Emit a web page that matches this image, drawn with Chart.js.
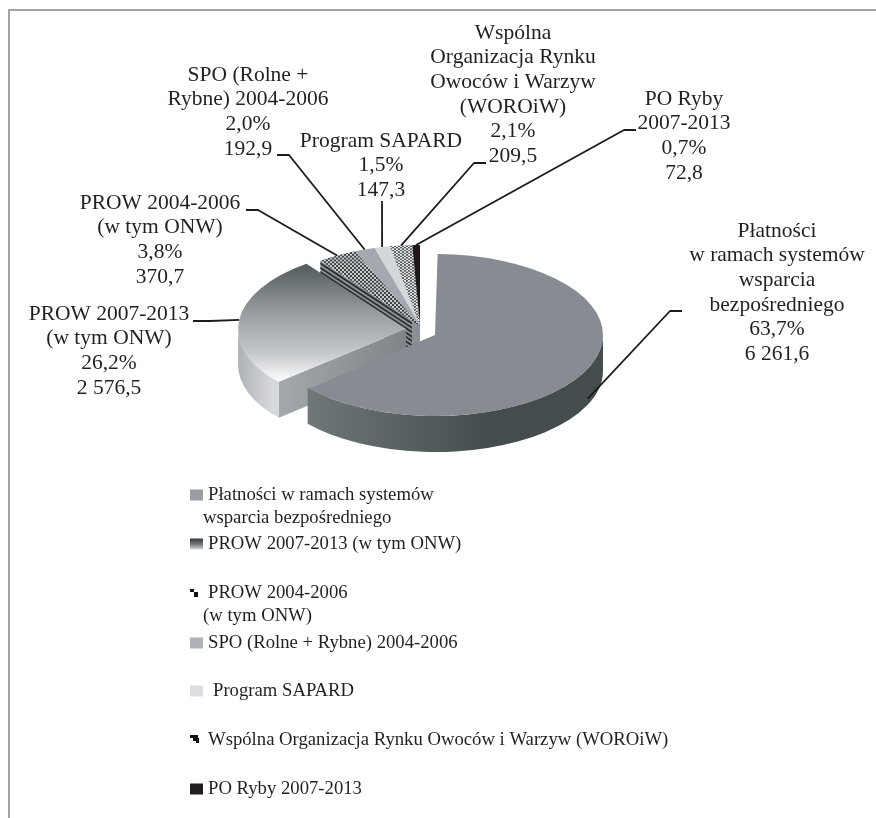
<!DOCTYPE html>
<html lang="pl">
<head>
<meta charset="utf-8">
<title>Płatności</title>
<script src="https://cdn.jsdelivr.net/npm/chart.js@4"></script>
<style>
html,body{margin:0;padding:0;background:#fff;}
canvas{display:block;}
</style>
</head>
<body>
<canvas id="c" width="876" height="818"></canvas>
<script>
// ---- data ----
const categories = [
  "Płatności w ramach systemów wsparcia bezpośredniego",
  "PROW 2007-2013 (w tym ONW)",
  "PROW 2004-2006 (w tym ONW)",
  "SPO (Rolne + Rybne) 2004-2006",
  "Program SAPARD",
  "Wspólna Organizacja Rynku Owoców i Warzyw (WOROiW)",
  "PO Ryby 2007-2013"
];
const values = [6261.6, 2576.5, 370.7, 192.9, 147.3, 209.5, 72.8];
const percentLabels = ["63,7%", "26,2%", "3,8%", "2,0%", "1,5%", "2,1%", "0,7%"];
const valueLabels = ["6 261,6", "2 576,5", "370,7", "192,9", "147,3", "209,5", "72,8"];
const calloutNames = [
  ["Płatności", "w ramach systemów", "wsparcia", "bezpośredniego"],
  ["PROW 2007-2013", "(w tym ONW)"],
  ["PROW 2004-2006", "(w tym ONW)"],
  ["SPO (Rolne +", "Rybne) 2004-2006"],
  ["Program SAPARD"],
  ["Wspólna", "Organizacja Rynku", "Owoców i Warzyw", "(WOROiW)"],
  ["PO Ryby", "2007-2013"]
];
const legendNames = [
  ["Płatności w ramach systemów", "wsparcia bezpośredniego"],
  ["PROW 2007-2013 (w tym ONW)"],
  ["PROW 2004-2006", "(w tym ONW)"],
  ["SPO (Rolne + Rybne) 2004-2006"],
  ["Program SAPARD"],
  ["Wspólna Organizacja Rynku Owoców i Warzyw (WOROiW)"],
  ["PO Ryby 2007-2013"]
];

// ---- layout and style ----
const W = 876, H = 818;
const CX = 420, CY = 326, R = 168, K = 0.482, DEPTH = 36;
const nudgeY = [5.7, 3.8, 0, 0, 0, 0, 0];
const INK = "#231f20";
const LABEL_FONT = '21.5px "Liberation Serif"';
const LEGEND_FONT = '18.7px "Liberation Serif"';
const LABEL_LH = 24.7, LEGEND_LH = 23;

const canvas = document.getElementById("c");
const g = canvas.getContext("2d");

function checker(cell, cellY, a, b) {
  const t = document.createElement("canvas");
  t.width = cell * 2; t.height = cellY * 2;
  const c = t.getContext("2d");
  c.fillStyle = a; c.fillRect(0, 0, t.width, t.height);
  c.fillStyle = b;
  c.fillRect(0, 0, cell, cellY);
  c.fillRect(cell, cellY, cell, cellY);
  return g.createPattern(t, "repeat");
}
// top face gradient is given in the tilted space, so convert screen y to it
const tiltY = (s, ny) => CY + (s - ny - CY) / K;
const g2 = g.createLinearGradient(0, tiltY(262, nudgeY[1]), 0, tiltY(381, nudgeY[1]));
g2.addColorStop(0, "#4f5758");
g2.addColorStop(0.45, "#9a9fa4");
g2.addColorStop(0.78, "#c6c9cd");
g2.addColorStop(1, "#fbfbfb");

const topFill = [
  "#868c91", g2,
  checker(2, 4, "#c9cccf", "#3e4243"),
  "#a3a9ae", "#d4d7da",
  checker(2, 3, "#e2e3e5", "#5a5e60"),
  "#1e1a1a"
];

function hGrad(x0, x1, stops) {
  const gr = g.createLinearGradient(x0, 0, x1, 0);
  stops.forEach(s => gr.addColorStop(s[0], s[1]));
  return gr;
}
const wallFill = [
  hGrad(304, 603, [[0, "#71787a"], [0.62, "#454c4d"], [1, "#454c4d"]]),
  hGrad(238, 272, [[0, "#aeb2b7"], [1, "#d6d8db"]]),
  "#555", "#777", "#999", "#777", "#111"
];
const faceFill = [
  "#71787a",
  hGrad(272, 405, [[0, "#a6aaae"], [1, "#7f8589"]]),
  "stripes", "#8a9095", "#8a9095", "#8a9095", "#2a2829"
];

// callout leaders: label-side points, then anchored on the slice's arc
const leaders = [
  {pts: [[682, 311], [670, 311]], drop: 30},
  {pts: [[193, 321], [210, 321]], drop: 0},
  {pts: [[246, 210], [258, 210]], drop: 0},
  {pts: [[277, 155], [289, 155]], drop: 0},
  {pts: [[382, 201]], drop: 0},
  {pts: [[486, 163], [474, 163]], drop: 0},
  {pts: [[636, 130], [624, 130]], drop: 0}
];
const calloutPos = [
  {x: 777, y: 231}, {x: 109, y: 314}, {x: 160, y: 203}, {x: 248, y: 75},
  {x: 381, y: 141}, {x: 513, y: 33}, {x: 684, y: 99}
];
const legendPos = [
  {y: 495, x: 208, x2: 203}, {y: 544, x: 208}, {y: 593, x: 208, x2: 203},
  {y: 643, x: 208}, {y: 691, x: 213}, {y: 740, x: 208}, {y: 789, x: 208}
];

function apexOf(el, i) {
  const mid = (el.startAngle + el.endAngle) / 2;
  const off = (el.options.offset || 0) / 4;
  const x = el.x + Math.cos(mid) * off;
  const y = el.y + Math.sin(mid) * off;
  return {x: x, y: el.y + K * (y - el.y) + nudgeY[i]};
}

function drawFace(ctx, ap, angle, i, rad) {
  const ex = ap.x + rad * Math.cos(angle), ey = ap.y + rad * K * Math.sin(angle);
  const poly = (t0, t1) => {
    ctx.beginPath();
    ctx.moveTo(ap.x, ap.y + t0);
    ctx.lineTo(ex, ey + t0);
    ctx.lineTo(ex, ey + t1);
    ctx.lineTo(ap.x, ap.y + t1);
    ctx.closePath();
  };
  if (faceFill[i] === "stripes") {
    ctx.save();
    ctx.beginPath();
    ctx.rect(0, 0, ap.x - 8, H);
    ctx.clip();
    ctx.fillStyle = "#8d9296";
    poly(0, DEPTH); ctx.fill();
    ctx.fillStyle = "#2b2f30";
    for (let t = 1.5; t < DEPTH; t += 4.4) { poly(t, t + 2.2); ctx.fill(); }
    ctx.restore();
  } else {
    ctx.fillStyle = faceFill[i];
    poly(0, DEPTH); ctx.fill();
  }
}

function drawWall(ctx, ap, el, i) {
  const a0 = Math.max(el.startAngle, 0), a1 = Math.min(el.endAngle, Math.PI);
  if (a0 >= a1) return;
  const rad = el.outerRadius;
  ctx.fillStyle = wallFill[i];
  ctx.beginPath();
  ctx.ellipse(ap.x, ap.y, rad, rad * K, 0, a0, a1);
  ctx.ellipse(ap.x, ap.y + DEPTH, rad, rad * K, 0, a1, a0, true);
  ctx.closePath();
  ctx.fill();
}

const tiltedPie = {
  id: "tiltedPie",
  beforeDatasetsDraw(chart) {
    const ctx = chart.ctx;
    const arcs = chart.getDatasetMeta(0).data;
    // back to front: small slices first, the main slice last
    for (let i = arcs.length - 1; i >= 0; i--) {
      const el = arcs[i];
      const ap = apexOf(el, i);
      ctx.save();
      if (Math.cos(el.startAngle) < -0.01) drawFace(ctx, ap, el.startAngle, i, el.outerRadius);
      drawWall(ctx, ap, el, i);
      ctx.translate(0, CY + nudgeY[i]);
      ctx.scale(1, K);
      ctx.translate(0, -CY);
      // Arc.draw grows the radius of an offset slice; cancel it so all slices keep one size
      const full = el.outerRadius;
      const fix = 1 - Math.sin(Math.min(Math.PI, el.circumference || 0));
      el.outerRadius = full - ((el.options.offset || 0) / 4) * fix;
      el.draw(ctx, chart.chartArea);
      el.outerRadius = full;
      ctx.restore();
    }
    return false;
  },
  afterDraw(chart) {
    const ctx = chart.ctx;
    const arcs = chart.getDatasetMeta(0).data;
    ctx.save();
    // frame
    ctx.strokeStyle = "#a3a3a5";
    ctx.lineWidth = 2;
    ctx.beginPath();
    ctx.moveTo(9, H);
    ctx.lineTo(9, 10);
    ctx.lineTo(W, 10);
    ctx.stroke();

    // leaders
    ctx.strokeStyle = "#1c1a1a";
    ctx.lineWidth = 1.8;
    ctx.lineJoin = "round";
    leaders.forEach((l, i) => {
      const el = arcs[i], ap = apexOf(el, i);
      const mid = (el.startAngle + el.endAngle) / 2;
      const ex = ap.x + el.outerRadius * Math.cos(mid);
      const ey = ap.y + el.outerRadius * K * Math.sin(mid) + l.drop;
      ctx.beginPath();
      l.pts.forEach((p, j) => j ? ctx.lineTo(p[0], p[1]) : ctx.moveTo(p[0], p[1]));
      ctx.lineTo(ex, ey);
      ctx.stroke();
    });

    // callouts
    ctx.fillStyle = INK;
    ctx.font = LABEL_FONT;
    ctx.textAlign = "center";
    ctx.textBaseline = "middle";
    calloutNames.forEach((names, i) => {
      const lines = names.concat([percentLabels[i], valueLabels[i]]);
      lines.forEach((t, j) => ctx.fillText(t, calloutPos[i].x, calloutPos[i].y + j * LABEL_LH));
    });

    // legend
    ctx.font = LEGEND_FONT;
    ctx.textAlign = "left";
    legendNames.forEach((lines, i) => {
      const p = legendPos[i];
      lines.forEach((t, j) => ctx.fillText(t, j ? p.x2 : p.x, p.y + j * LEGEND_LH));
    });
    const sw = (i, style) => {
      ctx.fillStyle = style;
      ctx.fillRect(190, legendPos[i].y - 5.5, 13, 11);
    };
    sw(0, "#9a9ea2");
    const lg = ctx.createLinearGradient(0, 538, 0, 550);
    lg.addColorStop(0, "#2f3334");
    lg.addColorStop(0.55, "#777b7d");
    lg.addColorStop(1, "#e4e5e6");
    sw(1, lg);
    sw(3, "#aeb1b5");
    sw(4, "#dcdde0");
    sw(6, "#231f20");
    ctx.fillStyle = "#111";
    [[190, 589, 4, 3], [194, 592, 4, 5]].forEach(r => ctx.fillRect(r[0], r[1], r[2], r[3]));
    [[190, 735, 8, 3], [193, 738, 6, 3], [196, 741, 3, 2]].forEach(r => ctx.fillRect(r[0], r[1], r[2], r[3]));
    ctx.restore();
  }
};

new Chart(canvas, {
  type: "pie",
  data: {
    labels: categories,
    datasets: [{
      data: values,
      backgroundColor: topFill,
      borderWidth: 0,
      offset: [66, 56, 0, 0, 0, 0, 0]
    }]
  },
  options: {
    responsive: false,
    animation: false,
    radius: R,
    layout: {padding: {left: 0, right: W - 2 * CX, top: 0, bottom: H - 2 * CY}},
    plugins: {legend: {display: false}, tooltip: {enabled: false}}
  },
  plugins: [tiltedPie]
});
</script>
</body>
</html>
